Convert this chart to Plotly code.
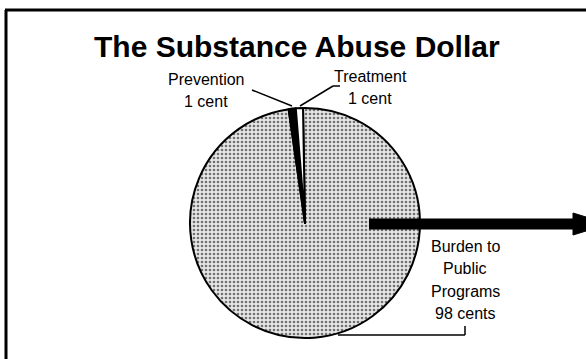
import plotly.graph_objects as go

W, H = 586, 359

categories = ["Burden to Public Programs", "Prevention", "Treatment"]
values = [98, 1, 1]
label_lines = {
    "Prevention": ["Prevention", "1 cent"],
    "Treatment": ["Treatment", "1 cent"],
    "Burden": ["Burden to", "Public", "Programs", "98 cents"],
}
title_text = "The Substance Abuse Dollar"

def px(x):
    return x / W

def py(y):
    return 1 - y / H

FONT = "Arial, 'Liberation Sans', Helvetica, sans-serif"

fig = go.Figure()
fig.add_trace(go.Pie(
    labels=categories,
    values=values,
    sort=False,
    direction="clockwise",
    rotation=-1,
    textinfo="none",
    hoverinfo="label+value",
    showlegend=False,
    marker=dict(
        colors=["#d4d4d4", "#000000", "#ffffff"],
        line=dict(color="#000000", width=2),
        pattern=dict(
            shape=[".", "", ""],
            fgcolor=["#707070", "#000000", "#ffffff"],
            bgcolor=["#e6e6e6", "#000000", "#ffffff"],
            size=4,
            solidity=0.35,
        ),
    ),
    domain=dict(x=[px(190), px(420)], y=[py(338), py(108)]),
))

annotations = []
def add_text(txt, x, y, size=16, bold=False):
    annotations.append(dict(
        text=f"<b>{txt}</b>" if bold else txt,
        x=px(x), y=py(y), xref="paper", yref="paper",
        xanchor="center", yanchor="middle", showarrow=False,
        font=dict(family=FONT, size=size, color="#000000"),
    ))

add_text(title_text, 297, 46, size=30, bold=True)
for i, t in enumerate(label_lines["Prevention"]):
    add_text(t, 206, 79 + 23 * i, size=16)
for i, t in enumerate(label_lines["Treatment"]):
    add_text(t, 370, 76 + 22 * i, size=16)
for i, t in enumerate(label_lines["Burden"]):
    add_text(t, 465, 246 + 22.5 * i, size=16)

shapes = []
def line(x0, y0, x1, y1, w=1.5):
    shapes.append(dict(type="line", xref="paper", yref="paper",
                       x0=px(x0), y0=py(y0), x1=px(x1), y1=py(y1),
                       line=dict(color="#000000", width=w)))

# frame
line(6, 10, 6, 359, w=3)
line(5, 10, 586, 10, w=3)
# leader lines
line(252, 90, 292, 106)
line(300, 106, 333, 86)
line(333, 86, 340, 86)
line(338, 335, 465, 335)
line(465, 335, 465, 326)
# arrow shaft
line(369, 224, 576, 224, w=11)
# arrow head
shapes.append(dict(type="path", xref="paper", yref="paper",
                   path=f"M {px(573)},{py(213)} L {px(573)},{py(235)} L {px(586)},{py(231)} L {px(586)},{py(217)} Z",
                   fillcolor="#000000", line=dict(color="#000000", width=1)))

fig.update_layout(
    width=W, height=H,
    margin=dict(l=0, r=0, t=0, b=0),
    paper_bgcolor="#ffffff",
    plot_bgcolor="#ffffff",
    annotations=annotations,
    shapes=shapes,
)

fig.write_html(
    "out.html",
    config={"displayModeBar": False},
    post_script="document.body.style.margin='0';document.body.style.overflow='hidden';",
)
